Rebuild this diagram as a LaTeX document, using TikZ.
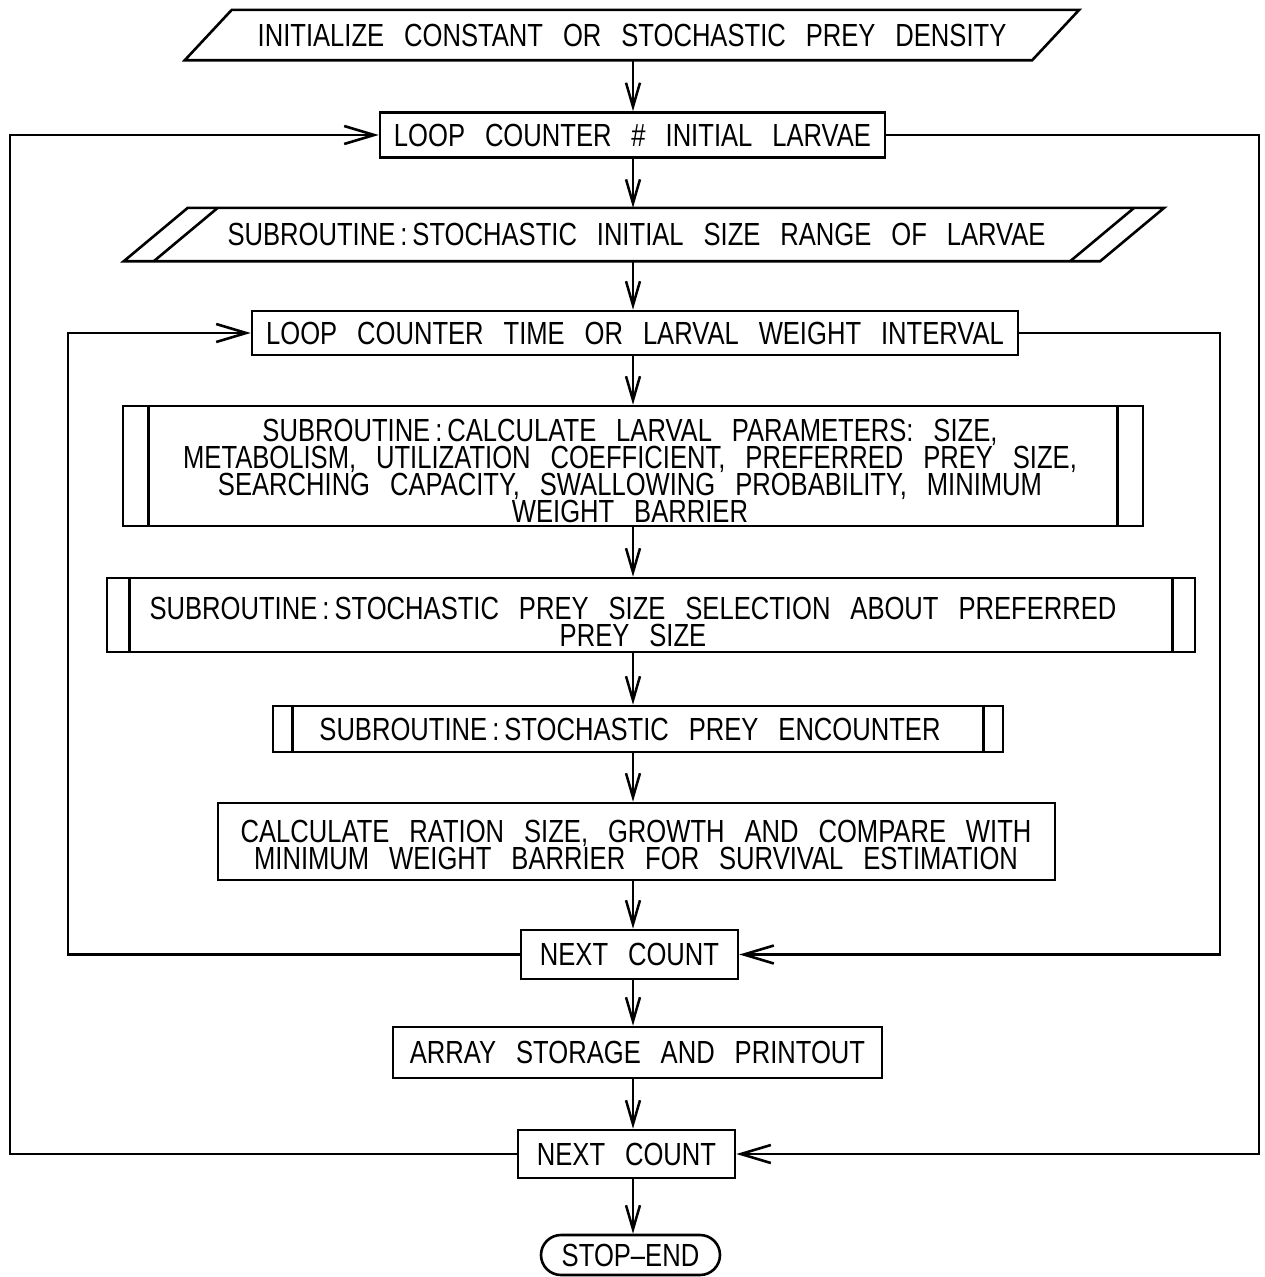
\documentclass[tikz,border=0pt]{standalone}
\usepackage{fontspec}
\setmainfont{Liberation Sans}[FakeStretch=0.8,WordSpace=2.8]
\usetikzlibrary{arrows.meta,shapes.misc}
\newcommand{\fsz}{\fontsize{32}{27}\selectfont}
\newcommand{\cln}{\hspace{5pt}:\hspace{5pt}}
\newcommand{\sbars}[2]{\draw[shp] ([xshift=#2]#1.north west) -- ([xshift=#2]#1.south west) ([xshift=-#2]#1.north east) -- ([xshift=-#2]#1.south east);}
\begin{document}
\begin{tikzpicture}[x=1pt,y=-1pt,
  shp/.style={line width=2.6pt},
  box/.style={draw, line width=2.6pt, inner sep=0pt, font=\fsz},
  plain/.style={inner sep=0pt, font=\fsz},
  txt/.style={inner sep=0pt, font=\fsz, align=center},
  conn/.style={line width=2.5pt, -{Straight Barb[length=24pt,width=14pt]}},
  harr/.style={line width=2.6pt, -{Straight Barb[length=30pt,width=18pt]}}]
\useasboundingbox (0,0) rectangle (1265,1277);
\fill[white] (0,0) rectangle (1265,1277);
\coordinate (ax) at (633,600);
\coordinate (oL) at (10,600);
\coordinate (oR) at (1259,600);
\coordinate (iL) at (68,600);
\coordinate (iR) at (1220,600);
% 1 input parallelogram
\node[plain, minimum width=847, minimum height=50] (n1) at (632,35) {INITIALIZE CONSTANT OR STOCHASTIC PREY DENSITY};
\draw[shp] ([xshift=23.5]n1.north west) -- ([xshift=23.5]n1.north east) -- ([xshift=-23.5]n1.south east) -- ([xshift=-23.5]n1.south west) -- cycle;
% 2
\node[box, minimum width=505, minimum height=45] (n2) at (632.5,135) {LOOP COUNTER \# INITIAL LARVAE};
% 3 double parallelogram
\node[plain, minimum width=976, minimum height=53] (n3) at (644,234.5) {\hspace*{-15pt}SUBROUTINE\cln STOCHASTIC INITIAL SIZE RANGE OF LARVAE};
\draw[shp] ([xshift=32]n3.north west) -- ([xshift=32]n3.north east) -- ([xshift=-32]n3.south east) -- ([xshift=-32]n3.south west) -- cycle;
\draw[shp] ([xshift=62]n3.north west) -- ([xshift=-2]n3.south west);
\draw[shp] ([xshift=2]n3.north east) -- ([xshift=-62]n3.south east);
% 4
\node[box, minimum width=766, minimum height=44] (n4) at (635,333) {LOOP COUNTER TIME OR LARVAL WEIGHT INTERVAL};
% 5
\node[box, minimum width=1020, minimum height=120] (n5) at (633,466) {};
\sbars{n5}{27}
\node[txt] (t5) at (630,471) {SUBROUTINE\cln CALCULATE LARVAL PARAMETERS: SIZE,\\METABOLISM, UTILIZATION COEFFICIENT, PREFERRED PREY SIZE,\\SEARCHING CAPACITY, SWALLOWING PROBABILITY, MINIMUM\\WEIGHT BARRIER};
% 6
\node[box, minimum width=1088, minimum height=74] (n6) at (651,615) {};
\sbars{n6}{24}
\node[txt] (t6) at (633,622) {SUBROUTINE\cln STOCHASTIC PREY SIZE SELECTION ABOUT PREFERRED\\PREY SIZE};
% 7
\node[box, minimum width=730, minimum height=46] (n7) at (638,729) {};
\sbars{n7}{21}
\node[txt] (t7) at (630,729) {SUBROUTINE\cln STOCHASTIC PREY ENCOUNTER};
% 8
\node[box, minimum width=837, minimum height=77] (n8) at (636.5,841.5) {};
\node[txt] (t8) at (636,845) {CALCULATE RATION SIZE, GROWTH AND COMPARE WITH\\MINIMUM WEIGHT BARRIER FOR SURVIVAL ESTIMATION};
% next count 1
\node[box, minimum width=217, minimum height=49] (nc1) at (629.5,954.5) {NEXT COUNT};
% array
\node[box, minimum width=489, minimum height=51] (ar) at (637.5,1052.5) {ARRAY STORAGE AND PRINTOUT};
% next count 2
\node[box, minimum width=217, minimum height=48] (nc2) at (626.5,1154) {NEXT COUNT};
% stop
\node[box, rounded rectangle, minimum width=179, minimum height=40] (se) at (630.5,1255) {STOP--END};
% vertical connectors
\draw[conn] (n1.south -| ax) -- (n2.north -| ax);
\draw[conn] (n2.south -| ax) -- (n3.north -| ax);
\draw[conn] (n3.south -| ax) -- (n4.north -| ax);
\draw[conn] (n4.south -| ax) -- (n5.north -| ax);
\draw[conn] (n5.south -| ax) -- (n6.north -| ax);
\draw[conn] (n6.south -| ax) -- (n7.north -| ax);
\draw[conn] (n7.south -| ax) -- (n8.north -| ax);
\draw[conn] (n8.south -| ax) -- (nc1.north -| ax);
\draw[conn] (nc1.south -| ax) -- (ar.north -| ax);
\draw[conn] (ar.south -| ax) -- (nc2.north -| ax);
\draw[conn] (nc2.south -| ax) -- (se.north -| ax);
% loops
\draw[harr] (nc2.west) -| (oL) |- (n2.west);
\draw[harr] (n2.east) -| (oR) |- (nc2.east);
\draw[harr] (nc1.west) -| (iL) |- (n4.west);
\draw[harr] (n4.east) -| (iR) |- (nc1.east);
\end{tikzpicture}
\end{document}
